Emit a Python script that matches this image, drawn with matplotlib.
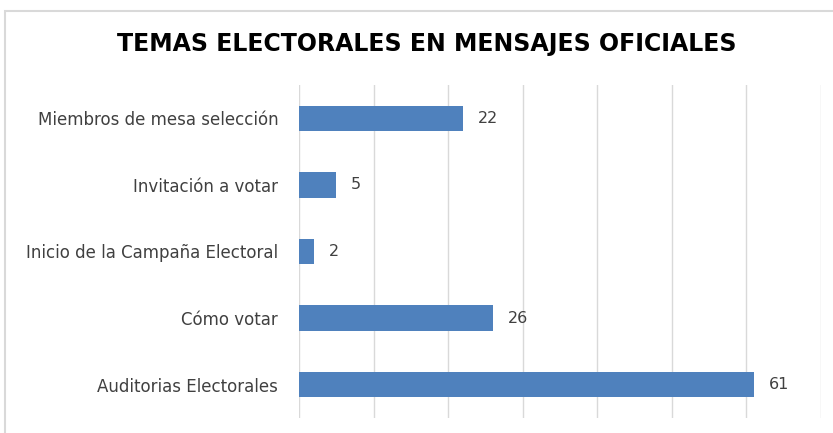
import matplotlib.pyplot as plt
from matplotlib.patches import Rectangle

categories = ['Miembros de mesa selección', 'Invitación a votar',
              'Inicio de la Campaña Electoral', 'Cómo votar',
              'Auditorias Electorales']
values = [22, 5, 2, 26, 61]
title = 'TEMAS ELECTORALES EN MENSAJES OFICIALES'


def main():
    plt.rcParams['font.family'] = ['DejaVu Sans']
    fig = plt.figure(figsize=(8.33, 4.33), dpi=100)

    # chart area border (cut off on the right and bottom)
    fig.patches.append(Rectangle((5 / 833, -0.1), 1.2, 0.1 + 1 - 11 / 433,
                                 transform=fig.transFigure, fill=False,
                                 edgecolor='#D9D9D9', linewidth=1.5))

    ax = fig.add_axes([299 / 833, 15 / 433, 522 / 833, 333 / 433])
    y = list(range(len(categories)))
    ax.barh(y, values, height=0.38, color='#4F81BD', zorder=3)
    ax.set_xlim(0, 70)
    ax.set_ylim(len(categories) - 0.5, -0.5)
    ax.set_xticks(range(0, 71, 10))
    ax.set_xticklabels([])
    ax.tick_params(axis='x', length=0)
    ax.set_yticks(y)
    ax.set_yticklabels(categories, fontsize=12, color='#404040')
    ax.tick_params(axis='y', length=0, pad=15)
    ax.grid(axis='x', color='#D9D9D9', linewidth=1, zorder=0)
    for s in ax.spines.values():
        s.set_visible(False)

    for yi, v in zip(y, values):
        ax.text(v + 2, yi, str(v), va='center', ha='left',
                fontsize=11.5, color='#404040')

    fig.text(427 / 833, 1 - 44 / 433, title, ha='center', va='center',
             fontsize=17, fontweight='bold', color='black')

    fig.savefig('out.png', dpi=100)


main()
